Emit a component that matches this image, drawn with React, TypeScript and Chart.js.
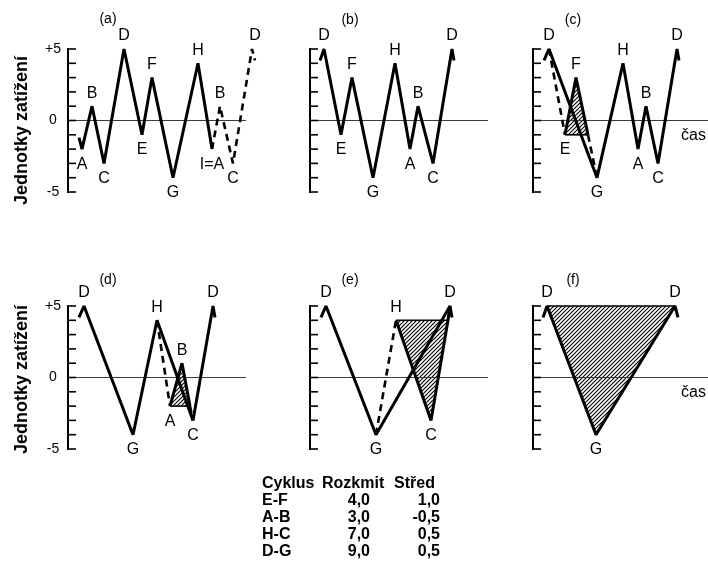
import React, { useEffect, useRef } from 'react';
import { Chart, registerables } from 'chart.js';
Chart.register(...registerables);

// ---------- shared axis data ----------
const Y_MIN = -5;
const Y_MAX = 5;
const Y_TICK_VALUES = [5, 0, -5];
const Y_TICK_LABELS = ['+5', '0', '-5'];
const Y_TITLE = 'Jednotky zatížení';
const X_TITLE = 'čas';
const ZERO_T = [0, 178];
const ZERO_V = [0, 0];
const PEAK_NAMES = ['B', 'D', 'F', 'H'];

// ---------- panel (a) ----------
const A_SOLID_T = [11, 14, 24, 36, 56, 74, 84, 105, 130, 144];
const A_SOLID_V = [-1.2, -2, 1, -3, 5, -1, 3, -4, 4, -2];
const A_DASH_T = [144, 152, 165, 184, 187];
const A_DASH_V = [-2, 1, -3, 5, 4.2];
const A_NAMES = ['A', 'B', 'C', 'D', 'E', 'F', 'G', 'H', 'I=A', 'B', 'C', 'D'];
const A_NAME_T = [14, 24, 36, 56, 74, 84, 105, 130, 144, 152, 165, 187];
const A_NAME_V = [-2, 1, -3, 5, -1, 3, -4, 4, -2, 1, -3, 5];

// ---------- panel (b) ----------
const B_SOLID_T = [10, 14, 31, 42, 63, 85, 100, 108, 123, 142, 144];
const B_SOLID_V = [4.2, 5, -1, 3, -4, 4, -2, 1, -3, 5, 4.2];
const B_NAMES = ['D', 'E', 'F', 'G', 'H', 'A', 'B', 'C', 'D'];
const B_NAME_T = [14, 31, 42, 63, 85, 100, 108, 123, 142];
const B_NAME_V = [5, -1, 3, -4, 4, -2, 1, -3, 5];

// ---------- panel (c) ----------
const C_SOLID_T = [11, 16, 64, 90, 105, 113, 125, 144, 146];
const C_SOLID_V = [4.2, 5, -4, 4, -2, 1, -3, 5, 4.2];
const C_DASH1_T = [16, 32];
const C_DASH1_V = [5, -1];
const C_LOOP_T = [32, 43, 55];
const C_LOOP_V = [-1, 3, -1];
const C_CLOSE_T = [55, 32];
const C_CLOSE_V = [-1, -1];
const C_DASH2_T = [55, 64];
const C_DASH2_V = [-1, -4];
const C_NAMES = ['D', 'E', 'F', 'G', 'H', 'A', 'B', 'C', 'D'];
const C_NAME_T = [16, 32, 43, 64, 90, 105, 113, 125, 144];
const C_NAME_V = [5, -1, 3, -4, 4, -2, 1, -3, 5];

// ---------- panel (d) ----------
const D_SOLID_T = [11, 16, 65, 89, 125, 145, 147];
const D_SOLID_V = [4.2, 5, -4, 4, -3, 5, 4.2];
const D_DASH1_T = [89, 102];
const D_DASH1_V = [4, -2];
const D_LOOP_T = [102, 114, 122];
const D_LOOP_V = [-2, 1, -2];
const D_CLOSE_T = [122, 102];
const D_CLOSE_V = [-2, -2];
const D_DASH2_T = [122, 125];
const D_DASH2_V = [-2, -3];
const D_NAMES = ['D', 'G', 'H', 'A', 'B', 'C', 'D'];
const D_NAME_T = [16, 65, 89, 102, 114, 125, 145];
const D_NAME_V = [5, -4, 4, -2, 1, -3, 5];

// ---------- panel (e) ----------
const E_SOLID_T = [11, 16, 66, 140, 142];
const E_SOLID_V = [4.2, 5, -4, 5, 4.2];
const E_DASH_T = [66, 86];
const E_DASH_V = [-4, 4];
const E_LOOP_T = [86, 121, 138, 140];
const E_LOOP_V = [4, -3, 4, 5];
const E_CLOSE_T = [138, 86];
const E_CLOSE_V = [4, 4];
const E_HATCH_T = [86, 121, 138, 86];
const E_HATCH_V = [4, -3, 4, 4];
const E_NAMES = ['D', 'G', 'H', 'C', 'D'];
const E_NAME_T = [16, 66, 86, 121, 140];
const E_NAME_V = [5, -4, 4, -3, 5];

// ---------- panel (f) ----------
const F_SOLID_T = [10, 14, 63, 142, 145];
const F_SOLID_V = [4.2, 5, -4, 5, 4.2];
const F_CLOSE_T = [14, 142];
const F_CLOSE_V = [5, 5];
const F_HATCH_T = [14, 63, 142, 14];
const F_HATCH_V = [5, -4, 5, 5];
const F_NAMES = ['D', 'G', 'D'];
const F_NAME_T = [14, 63, 142];
const F_NAME_V = [5, -4, 5];

// ---------- table ----------
const TABLE_HEAD = ['Cyklus', 'Rozkmit', 'Střed'];
const CYCLES = ['E-F', 'A-B', 'H-C', 'D-G'];
const RANGES = ['4,0', '3,0', '7,0', '9,0'];
const MEANS = ['1,0', '-0,5', '0,5', '0,5'];

type Kind = 'solid' | 'dash' | 'thin' | 'zero' | 'hatch';
type Seg = { t: number[]; v: number[]; kind: Kind };
type PanelDef = {
  tag: string;
  tagDy: number;
  titleDy: number;
  axisX: number;
  plusY: number;
  segs: Seg[];
  names: string[];
  nameT: number[];
  nameV: number[];
  yAxisText: boolean;
  xAxisText: boolean;
};

const seg = (t: number[], v: number[], kind: Kind): Seg => ({ t, v, kind });

const PANELS: PanelDef[] = [
  {
    tag: '(a)', tagDy: -30, titleDy: 10, axisX: 68, plusY: 49, yAxisText: true, xAxisText: false,
    segs: [seg(A_SOLID_T, A_SOLID_V, 'solid'), seg(A_DASH_T, A_DASH_V, 'dash')],
    names: A_NAMES, nameT: A_NAME_T, nameV: A_NAME_V,
  },
  {
    tag: '(b)', tagDy: -29, titleDy: 0, axisX: 310, plusY: 49, yAxisText: false, xAxisText: false,
    segs: [seg(B_SOLID_T, B_SOLID_V, 'solid')],
    names: B_NAMES, nameT: B_NAME_T, nameV: B_NAME_V,
  },
  {
    tag: '(c)', tagDy: -29, titleDy: 0, axisX: 533, plusY: 49, yAxisText: false, xAxisText: true,
    segs: [
      seg([...C_LOOP_T, C_LOOP_T[0]], [...C_LOOP_V, C_LOOP_V[0]], 'hatch'),
      seg(C_SOLID_T, C_SOLID_V, 'solid'),
      seg(C_DASH1_T, C_DASH1_V, 'dash'),
      seg(C_LOOP_T, C_LOOP_V, 'solid'),
      seg(C_CLOSE_T, C_CLOSE_V, 'thin'),
      seg(C_DASH2_T, C_DASH2_V, 'dash'),
    ],
    names: C_NAMES, nameT: C_NAME_T, nameV: C_NAME_V,
  },
  {
    tag: '(d)', tagDy: -26, titleDy: 2, axisX: 68, plusY: 306, yAxisText: true, xAxisText: false,
    segs: [
      seg([...D_LOOP_T, D_LOOP_T[0]], [...D_LOOP_V, D_LOOP_V[0]], 'hatch'),
      seg(D_SOLID_T, D_SOLID_V, 'solid'),
      seg(D_DASH1_T, D_DASH1_V, 'dash'),
      seg(D_LOOP_T, D_LOOP_V, 'solid'),
      seg(D_CLOSE_T, D_CLOSE_V, 'thin'),
      seg(D_DASH2_T, D_DASH2_V, 'dash'),
    ],
    names: D_NAMES, nameT: D_NAME_T, nameV: D_NAME_V,
  },
  {
    tag: '(e)', tagDy: -26, titleDy: 0, axisX: 310, plusY: 306, yAxisText: false, xAxisText: false,
    segs: [
      seg(E_HATCH_T, E_HATCH_V, 'hatch'),
      seg(E_SOLID_T, E_SOLID_V, 'solid'),
      seg(E_DASH_T, E_DASH_V, 'dash'),
      seg(E_LOOP_T, E_LOOP_V, 'solid'),
      seg(E_CLOSE_T, E_CLOSE_V, 'thin'),
    ],
    names: E_NAMES, nameT: E_NAME_T, nameV: E_NAME_V,
  },
  {
    tag: '(f)', tagDy: -26, titleDy: 0, axisX: 533, plusY: 306, yAxisText: false, xAxisText: true,
    segs: [
      seg(F_HATCH_T, F_HATCH_V, 'hatch'),
      seg(F_SOLID_T, F_SOLID_V, 'solid'),
      seg(F_CLOSE_T, F_CLOSE_V, 'thin'),
    ],
    names: F_NAMES, nameT: F_NAME_T, nameV: F_NAME_V,
  },
];

const FONT = '"Liberation Sans", Arial, Helvetica, sans-serif';
const PAD_L = 70;
const PAD_R = 20;
const PAD_T = 45;
const PAD_B = 25;
const PLOT_W = 190;
const PLOT_H = 143;
const CW = PAD_L + PLOT_W + PAD_R;
const CH = PAD_T + PLOT_H + PAD_B;

function hatchPattern(ctx: CanvasRenderingContext2D): CanvasPattern | string {
  const tile = document.createElement('canvas');
  const s = 4;
  tile.width = s;
  tile.height = s;
  const g = tile.getContext('2d');
  if (!g) return 'rgba(0,0,0,0.4)';
  g.strokeStyle = '#000';
  g.lineWidth = 1.1;
  g.beginPath();
  g.moveTo(0, s);
  g.lineTo(s, 0);
  g.moveTo(-1, 1);
  g.lineTo(1, -1);
  g.moveTo(s - 1, s + 1);
  g.lineTo(s + 1, s - 1);
  g.stroke();
  return ctx.createPattern(tile, 'repeat') || 'rgba(0,0,0,0.4)';
}

function Panel({ def }: { def: PanelDef }) {
  const ref = useRef<HTMLCanvasElement | null>(null);
  useEffect(() => {
    const canvas = ref.current;
    if (!canvas) return;
    const ctx0 = canvas.getContext('2d');
    if (!ctx0) return;
    const pattern = hatchPattern(ctx0);

    const datasets: any[] = [
      {
        data: ZERO_T.map((t, i) => ({ x: t, y: ZERO_V[i] })),
        borderColor: '#3a3a3a',
        borderWidth: 1,
        pointRadius: 0,
        fill: false,
        order: 5,
      },
    ];
    def.segs.forEach((s) => {
      const data = s.t.map((t, i) => ({ x: t, y: s.v[i] }));
      if (s.kind === 'hatch') {
        datasets.push({
          data,
          borderWidth: 0,
          borderColor: 'rgba(0,0,0,0)',
          backgroundColor: pattern,
          fill: 'shape',
          pointRadius: 0,
          order: 6,
        });
        return;
      }
      datasets.push({
        data,
        borderColor: '#000',
        borderWidth: s.kind === 'solid' ? 3 : s.kind === 'dash' ? 2.6 : 1.6,
        borderDash: s.kind === 'dash' ? [7, 5] : [],
        borderJoinStyle: 'miter',
        borderCapStyle: 'butt',
        pointRadius: 0,
        fill: false,
        order: 1,
      });
    });

    const decor = {
      id: 'decor' + def.tag,
      beforeDatasetsDraw(chart: any) {
        chart.ctx.save();
        chart.ctx.miterLimit = 2.2;
      },
      afterDatasetsDraw(chart: any) {
        chart.ctx.restore();
      },
      afterDraw(chart: any) {
        const { ctx } = chart;
        const xs = chart.scales.x;
        const ys = chart.scales.y;
        const x0 = xs.getPixelForValue(0);
        ctx.save();
        ctx.strokeStyle = '#000';
        ctx.fillStyle = '#000';
        // axis line
        ctx.lineWidth = 2;
        ctx.beginPath();
        ctx.moveTo(x0, ys.getPixelForValue(Y_MAX) - 1);
        ctx.lineTo(x0, ys.getPixelForValue(Y_MIN) + 1);
        ctx.stroke();
        // inward ticks
        ctx.lineWidth = 1.6;
        for (let v = Y_MIN; v <= Y_MAX; v++) {
          const py = ys.getPixelForValue(v);
          ctx.beginPath();
          ctx.moveTo(x0, py);
          ctx.lineTo(x0 + 8, py);
          ctx.stroke();
        }
        // tick labels + y title
        if (def.yAxisText) {
          ctx.font = '14px ' + FONT;
          ctx.textAlign = 'center';
          ctx.textBaseline = 'middle';
          Y_TICK_VALUES.forEach((v, i) => {
            ctx.fillText(Y_TICK_LABELS[i], x0 - 15, ys.getPixelForValue(v));
          });
          ctx.save();
          ctx.translate(x0 - 46, ys.getPixelForValue(0) + def.titleDy);
          ctx.rotate(-Math.PI / 2);
          ctx.font = 'bold 18px ' + FONT;
          ctx.fillText(Y_TITLE, 0, 0);
          ctx.restore();
        }
        // panel tag
        ctx.font = '14px ' + FONT;
        ctx.textAlign = 'center';
        ctx.textBaseline = 'middle';
        ctx.fillText(def.tag, xs.getPixelForValue(40), ys.getPixelForValue(Y_MAX) + def.tagDy);
        // point names
        ctx.font = '16px ' + FONT;
        def.names.forEach((n, i) => {
          const px = xs.getPixelForValue(def.nameT[i]);
          const py = ys.getPixelForValue(def.nameV[i]);
          const up = PEAK_NAMES.indexOf(n) >= 0;
          ctx.fillText(n, px, up ? py - 13 : py + 15);
        });
        if (def.xAxisText) {
          ctx.textAlign = 'left';
          ctx.fillText(X_TITLE, xs.getPixelForValue(148), ys.getPixelForValue(0) + 15);
        }
        ctx.restore();
      },
    };

    const chart = new Chart(canvas, {
      type: 'line',
      data: { datasets },
      options: {
        animation: false,
        responsive: false,
        maintainAspectRatio: false,
        devicePixelRatio: 1,
        layout: { padding: { left: PAD_L, top: PAD_T, right: PAD_R, bottom: PAD_B } },
        scales: {
          x: { type: 'linear', min: 0, max: PLOT_W, display: false },
          y: { type: 'linear', min: Y_MIN, max: Y_MAX, display: false },
        },
        datasets: { line: { clip: false } as any },
        elements: { line: { tension: 0 }, point: { radius: 0 } },
        plugins: { legend: { display: false }, tooltip: { enabled: false } },
      } as any,
      plugins: [decor],
    });
    return () => chart.destroy();
  }, [def]);

  return (
    <canvas
      ref={ref}
      width={CW}
      height={CH}
      style={{
        position: 'absolute',
        left: def.axisX - PAD_L,
        top: def.plusY - PAD_T,
        width: CW,
        height: CH,
      }}
    />
  );
}

const TABLE_FONT: React.CSSProperties = {
  position: 'absolute',
  font: 'bold 16px ' + FONT,
  lineHeight: '16px',
  whiteSpace: 'nowrap',
  color: '#000',
};

export default function App() {
  const headY = 483;
  const rowStep = 17;
  return (
    <div
      style={{
        position: 'absolute',
        left: 0,
        top: 0,
        width: 708,
        height: 581,
        overflow: 'hidden',
        background: '#fff',
      }}
    >
      {PANELS.map((p) => (
        <Panel key={p.tag} def={p} />
      ))}
      <div style={{ ...TABLE_FONT, left: 262, top: headY - 8 }}>{TABLE_HEAD[0]}</div>
      <div style={{ ...TABLE_FONT, left: 322, top: headY - 8 }}>{TABLE_HEAD[1]}</div>
      <div style={{ ...TABLE_FONT, left: 394, top: headY - 8 }}>{TABLE_HEAD[2]}</div>
      {CYCLES.map((c, i) => (
        <React.Fragment key={c}>
          <div style={{ ...TABLE_FONT, left: 262, top: headY + rowStep * (i + 1) - 8 }}>{c}</div>
          <div style={{ ...TABLE_FONT, right: 708 - 370, top: headY + rowStep * (i + 1) - 8, textAlign: 'right' }}>
            {RANGES[i]}
          </div>
          <div style={{ ...TABLE_FONT, right: 708 - 440, top: headY + rowStep * (i + 1) - 8, textAlign: 'right' }}>
            {MEANS[i]}
          </div>
        </React.Fragment>
      ))}
    </div>
  );
}
